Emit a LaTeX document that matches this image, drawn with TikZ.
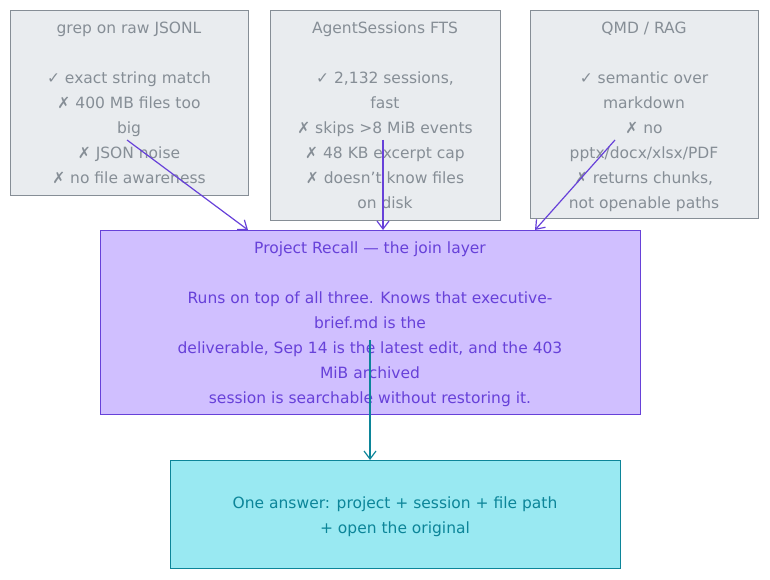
\documentclass[tikz,border=0pt]{standalone}
\usepackage{fontspec}
\setmainfont{DejaVu Sans}
\usetikzlibrary{arrows.meta}
\definecolor{gfill}{HTML}{E9ECEF}\definecolor{gline}{HTML}{868E96}
\definecolor{pfill}{HTML}{D0BFFF}\definecolor{pline}{HTML}{6741D9}
\definecolor{tfill}{HTML}{99E9F2}\definecolor{tline}{HTML}{0C8599}
\begin{document}
\begin{tikzpicture}[x=1pt,y=-1pt,
 box/.style={draw,line width=1pt,anchor=north west,inner sep=0pt},
 txt/.style={align=center,font=\fontsize{15.5}{25}\selectfont,anchor=north},
 arr/.style={line width=1.2pt,-{Straight Barb[length=8pt,width=12pt]}}]
\useasboundingbox (0,0) rectangle (770,580);
\node[box,fill=gfill,draw=gline,minimum width=238pt,minimum height=185pt] (b1) at (10,10) {};
\node[box,fill=gfill,draw=gline,minimum width=230pt,minimum height=210pt] (b2) at (270,10) {};
\node[box,fill=gfill,draw=gline,minimum width=228pt,minimum height=208pt] (b3) at (530,10) {};
\node[box,fill=pfill,draw=pline,minimum width=540pt,minimum height=184pt] (p) at (100,230) {};
\node[box,fill=tfill,draw=tline,minimum width=450pt,minimum height=108pt] (t) at (170,460) {};
\node[txt,text=gline] (t1) at (129,18) {grep on raw JSONL\\[25pt]✓ exact string match\\✗ 400 MB files too\\big\\✗ JSON noise\\✗ no file awareness};
\node[txt,text=gline] (t2) at (385,18) {AgentSessions FTS\\[25pt]✓ 2,132 sessions,\\fast\\✗ skips >8 MiB events\\✗ 48 KB excerpt cap\\✗ doesn't know files\\on disk};
\node[txt,text=gline] (t3) at (644,18) {QMD / RAG\\[25pt]✓ semantic over\\markdown\\✗ no\\pptx/docx/xlsx/PDF\\✗ returns chunks,\\not openable paths};
\node[txt,text=pline] (tp) at (370,238) {Project Recall — the join layer\\[25pt]Runs on top of all three. Knows that executive-\\brief.md is the\\deliverable, Sep 14 is the latest edit, and the 403\\MiB archived\\session is searchable without restoring it.};
\node[txt,text=tline] (tt) at (395,493) {One answer: project + session + file path\\+ open the original};
\coordinate (a1) at (127,140); \coordinate (a2) at (383,140);
\coordinate (a3) at (615,140); \coordinate (a4) at (370,340);
\draw[arr,pline] (a1) -- (p.north west -| 248,230);
\draw[arr,pline] (a2) -- (383,230);
\draw[arr,pline] (a3) -- (535,230);
\draw[arr,tline] (a4) -- (t.north -| 370,460);
\end{tikzpicture}
\end{document}
